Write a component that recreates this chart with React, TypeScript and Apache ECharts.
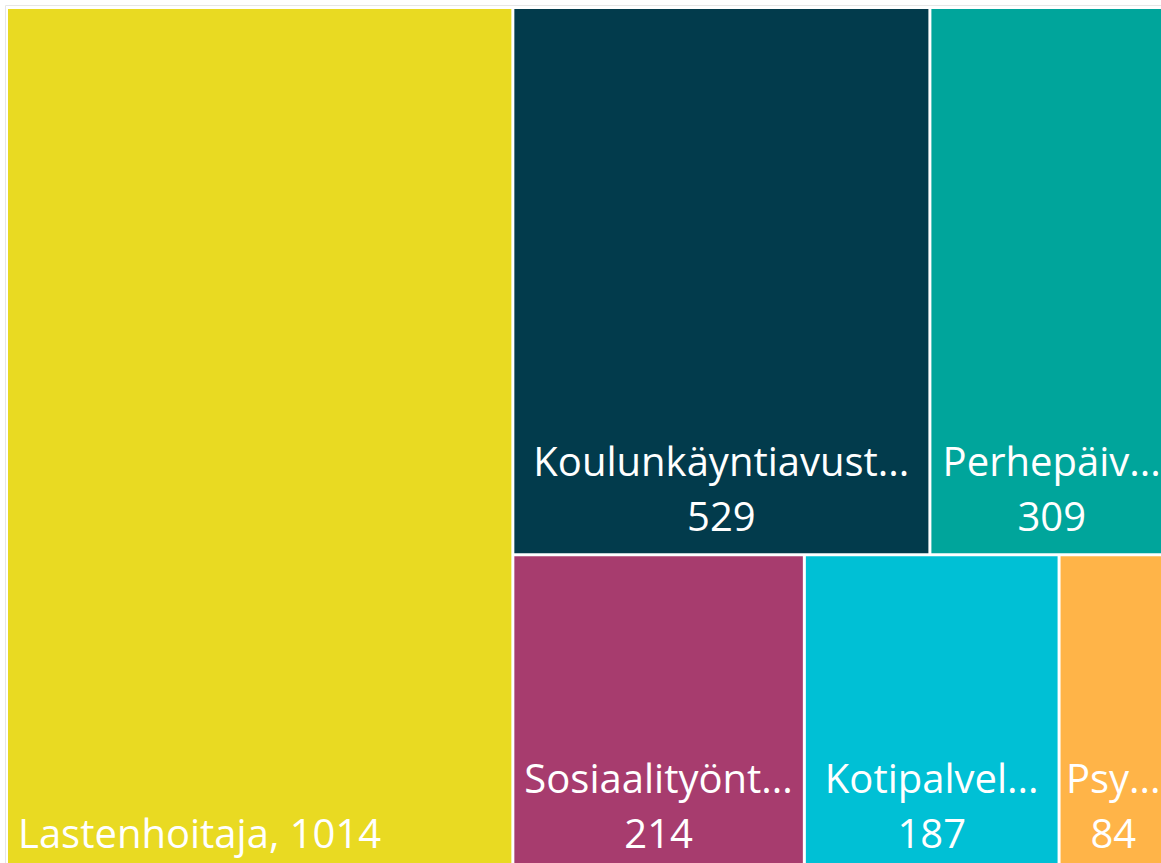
import React, { useEffect, useRef } from "react";
import * as echarts from "echarts";

const names = [
  "Lastenhoitaja",
  "Koulunkäyntiavustaja",
  "Perhepäivähoitaja",
  "Sosiaalityöntekijä",
  "Kotipalvelutyöntekijä",
  "Psykologi",
];
const values = [1014, 529, 309, 214, 187, 84];
const colors = ["#E9DA22", "#023B4C", "#00A59B", "#A73C6E", "#00C0D5", "#FFB448"];

const FONT = "'Segoe UI', 'Open Sans', sans-serif";

export default function App() {
  const ref = useRef<HTMLDivElement>(null);
  useEffect(() => {
    if (!ref.current) return;
    const chart = echarts.init(ref.current, null, { renderer: "svg" });
    // label inner padding per tile (Power BI-like truncation margins)
    const labelPad: Record<number, number> = { 3: 6, 5: 6 };
    const labelShift: Record<number, number> = { 5: -3 };
    const data = names.map((n, i) => {
      const item: any = {
        name: n,
        value: values[i],
        itemStyle: { color: colors[i] },
      };
      if (i === 0) {
        item.label = {
          position: "insideBottomLeft",
          formatter: "{b}, {c}",
          padding: 0,
        };
      } else if (labelPad[i] != null) {
        item.label = {
          padding: [0, labelPad[i]],
          offset: [labelShift[i] || 0, 0],
        };
      }
      return item;
    });
    chart.setOption({
      animation: false,
      graphic: [
        {
          type: "rect",
          shape: { x: 5.5, y: 5.5, width: 1180, height: 875 },
          style: { fill: "none", stroke: "#e6e6e6", lineWidth: 1 },
          silent: true,
        },
      ],
      series: [
        {
          type: "treemap",
          left: 8,
          top: 9,
          width: 1164,
          height: 861,
          squareRatio: 1.16,
          sort: "desc",
          roam: false,
          nodeClick: false,
          breadcrumb: { show: false },
          levels: [
            {
              itemStyle: { gapWidth: 3, borderWidth: 0, borderColor: "#fff" },
            },
          ],
          itemStyle: { borderWidth: 0, gapWidth: 3 },
          label: {
            show: true,
            position: "insideBottom",
            formatter: "{b}\n{c}",
            color: "#ffffff",
            fontFamily: FONT,
            fontSize: 40,
            lineHeight: 55,
            distance: 10,
            padding: [0, 9],
            overflow: "truncate",
            ellipsis: "...",
          },
          data,
        },
      ],
    });
    return () => chart.dispose();
  }, []);
  return (
    <div
      ref={ref}
      style={{ position: "absolute", left: 0, top: 0, width: 1190, height: 885 }}
    />
  );
}
